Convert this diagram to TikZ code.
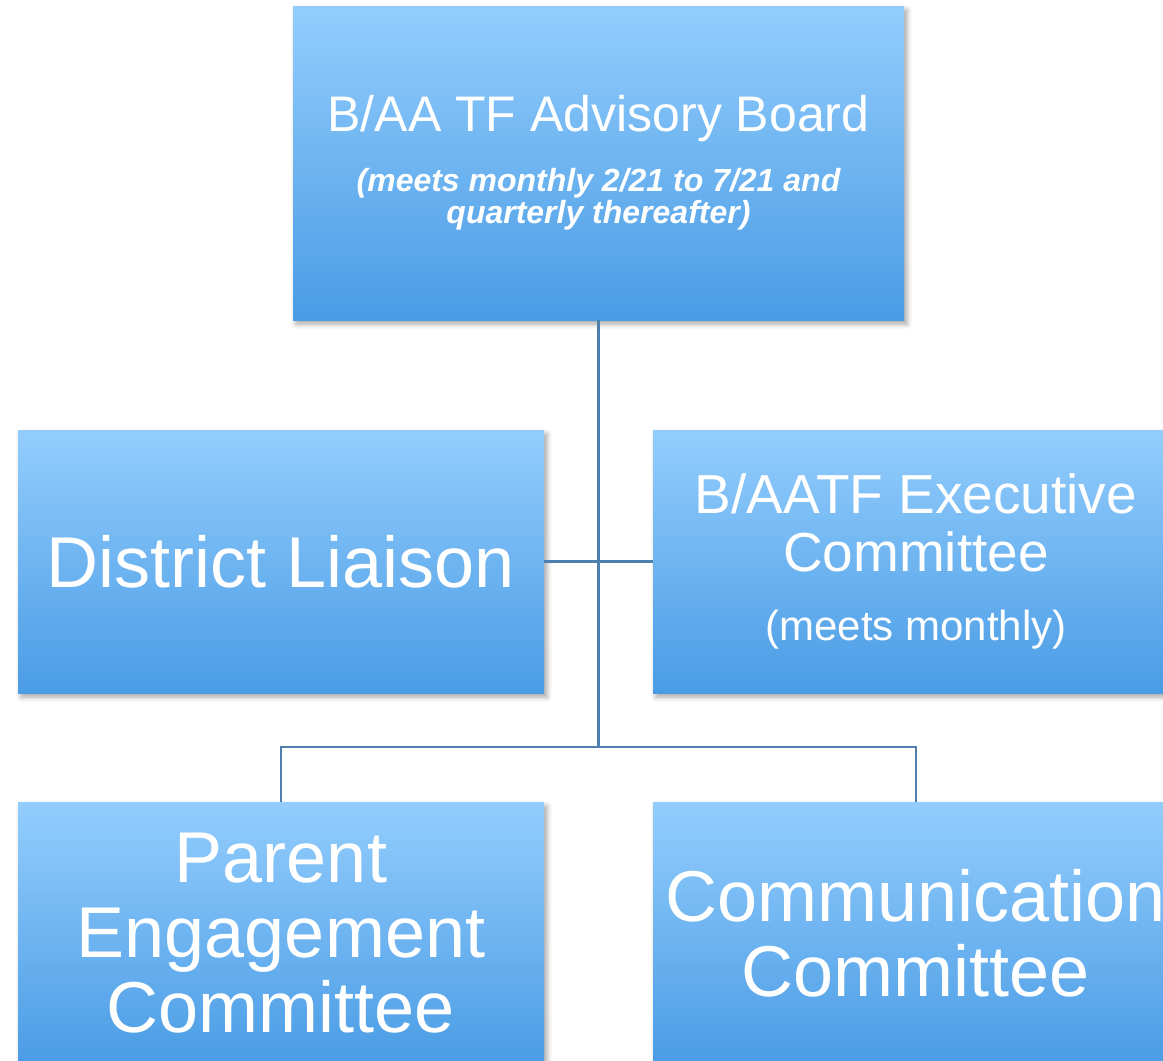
\documentclass[tikz,border=0pt]{standalone}
\usepackage{fontspec}
\setmainfont{Liberation Sans}
\usepackage{tikz}
\usetikzlibrary{shadows.blur}

\definecolor{boxtop}{HTML}{93CDFD}
\definecolor{boxbot}{HTML}{4A9CE5}
\definecolor{linkblue}{HTML}{4F7FAE}

\newcommand{\notefont}{\fontsize{32}{32}\selectfont\bfseries\itshape}

\begin{document}
\begin{tikzpicture}[
                    x=1pt, y=1pt,
                    unit/.style={
                        rectangle,
                        minimum width=526pt,
                        minimum height=263pt,
                        inner sep=0pt,
                        align=center,
                        text=white,
                        font=\fontsize{72}{75}\selectfont,
                        top color=boxtop,
                        bottom color=boxbot,
                        blur shadow={shadow xshift=3pt, shadow yshift=-4pt,
                                     shadow blur radius=5pt, shadow opacity=35}
                    },
                    link/.style={draw=linkblue, line width=2.2pt}
                ]

                    \clip (0,0) rectangle (1163,-1061);

                    \node[unit, minimum width=611pt, minimum height=314pt,
                          font=\fontsize{50}{56}\selectfont] (board) at (598.5,-163)
                        {B/AA TF Advisory Board\\[4pt]
                         {\notefont (meets monthly 2/21 to 7/21 and}\\[-24pt]
                         {\notefont quarterly thereafter)}};
                    \node[unit] (liaison) at (281,-561.5) {District Liaison};
                    \node[unit, font=\fontsize{55}{58}\selectfont] (exec) at (916,-561.5)
                        {B/AATF Executive\\ Committee\\[11pt]
                         {\fontsize{42}{46}\selectfont (meets monthly)}};
                    \node[unit] (parent) at (281,-933.5) {Parent\\ Engagement\\ Committee};
                    \node[unit] (comm) at (916,-933.5) {Communication\\ Committee};

                    \coordinate (split) at (598.5,-747);

                    % Edges
                    \draw[link] (board) -- (split);
                    \draw[link] (liaison) -- (exec);
                    \draw[link] (split) -| (parent);
                    \draw[link] (split) -| (comm);
                \end{tikzpicture}
\end{document}
